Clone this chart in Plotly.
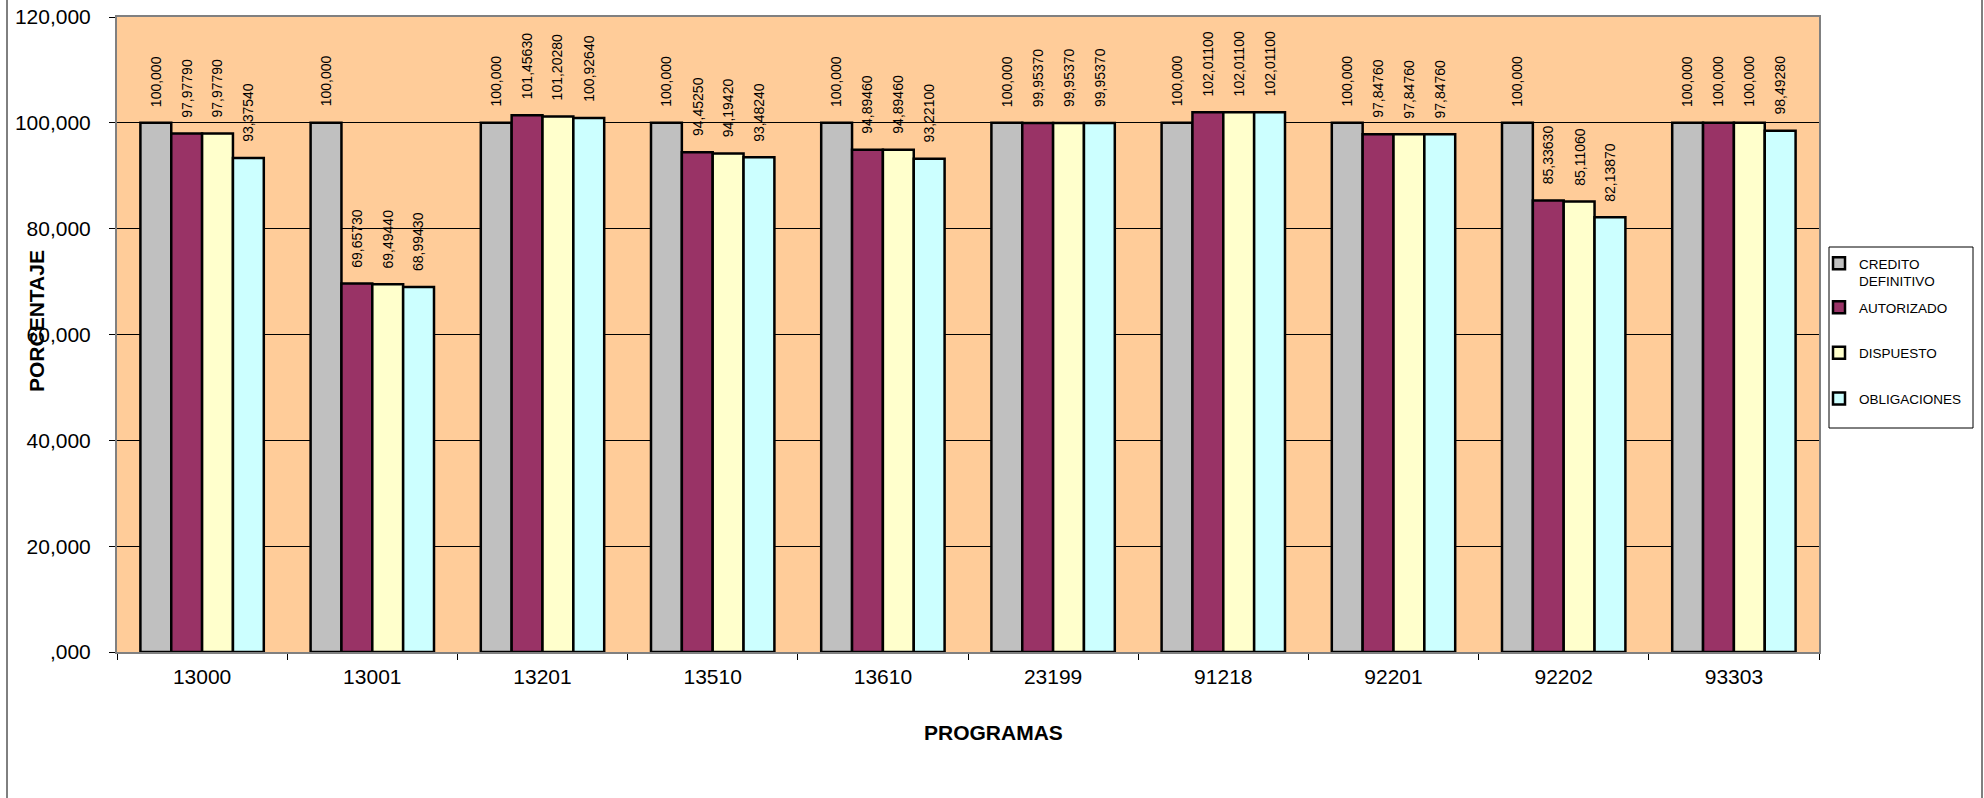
import plotly.graph_objects as go

categories = ["13000", "13001", "13201", "13510", "13610", "23199", "91218", "92201", "92202", "93303"]
series_names = ["CREDITO<br>DEFINITIVO", "AUTORIZADO", "DISPUESTO", "OBLIGACIONES"]
credito = [100, 100, 100, 100, 100, 100, 100, 100, 100, 100]
autorizado = [97.9779, 69.6573, 101.4563, 94.4525, 94.8946, 99.9537, 102.011, 97.8476, 85.3363, 100]
dispuesto = [97.9779, 69.4944, 101.2028, 94.1942, 94.8946, 99.9537, 102.011, 97.8476, 85.1106, 100]
obligaciones = [93.3754, 68.9943, 100.9264, 93.4824, 93.2210, 99.9537, 102.011, 97.8476, 82.1387, 98.4928]
colors = ["#C0C0C0", "#993366", "#FFFFCC", "#CCFFFF"]
y_tickvals = [0, 20, 40, 60, 80, 100, 120]
y_ticktext = [",000", "20,000", "40,000", "60,000", "80,000", "100,000", "120,000"]

series = [credito, autorizado, dispuesto, obligaciones]


def fmt(v):
    if float(v).is_integer():
        s = f"{v:.3f}"
    else:
        s = f"{v:.5f}"
    return s.replace(".", ",")


BARGAP = 0.275
FONT = "Liberation Sans, Arial, sans-serif"
PL, PR, PT, PB = 117, 1819, 17, 652
PW, PH = PR - PL, PB - PT


def px(xp):
    return (xp - PL) / PW


def py(yp):
    return (PB - yp) / PH


fig = go.Figure()
for j, (name, vals) in enumerate(zip(series_names, series)):
    fig.add_trace(go.Bar(
        x=categories, y=vals, name=name,
        marker=dict(color=colors[j], line=dict(color="#000000", width=2.5)),
        legendgroup=f"g{j}",
        legend="legend" if j == 0 else "legend2",
    ))

# data labels above bars
n = len(series)
w = (1 - BARGAP) / n
annotations = []
for j, vals in enumerate(series):
    for i, v in enumerate(vals):
        annotations.append(dict(
            x=i - (1 - BARGAP) / 2 + (j + 0.5) * w, y=v, xref="x", yref="y",
            text=fmt(v), textangle=-90, showarrow=False,
            xanchor="center", yanchor="bottom", yshift=14,
            font=dict(family=FONT, size=14, color="#000000"),
        ))

# axis titles
annotations.append(dict(
    text="<b>PORCENTAJE</b>", textangle=-90, showarrow=False,
    xref="paper", yref="paper", x=px(36), y=py(321),
    xanchor="center", yanchor="middle",
    font=dict(family=FONT, size=21, color="#000000"),
))
annotations.append(dict(
    text="<b>PROGRAMAS</b>", showarrow=False,
    xref="paper", yref="paper", x=px(994), y=py(732),
    xanchor="center", yanchor="middle",
    font=dict(family=FONT, size=21, color="#000000"),
))

legend_common = dict(
    xanchor="left", yanchor="top",
    bgcolor="rgba(0,0,0,0)", borderwidth=0,
    font=dict(family=FONT, size=13.5, color="#000000"),
    itemwidth=30, valign="top",
)

fig.update_layout(
    width=1984, height=798,
    margin=dict(l=PL, r=1984 - PR, t=PT, b=798 - PB, autoexpand=False),
    barmode="group", bargap=BARGAP, bargroupgap=0,
    plot_bgcolor="#FFCC99", paper_bgcolor="#FFFFFF",
    font=dict(family=FONT, color="#000000"),
    annotations=annotations,
    showlegend=True,
    legend=dict(x=px(1819), y=py(248), tracegroupgap=0, **legend_common),
    legend2=dict(x=px(1819), y=py(292), tracegroupgap=25, **legend_common),
    shapes=[
        dict(
            type="rect", xref="paper", yref="paper",
            x0=px(7), x1=px(1982), y0=py(810), y1=py(-10),
            line=dict(color="#000000", width=1), fillcolor="rgba(0,0,0,0)", layer="below",
        ),
        dict(
            type="rect", xref="paper", yref="paper",
            x0=px(1829), x1=px(1973), y0=py(428), y1=py(247),
            line=dict(color="#000000", width=1), fillcolor="rgba(0,0,0,0)", layer="above",
        ),
    ],
)

fig.update_xaxes(
    type="category", showline=True, mirror=True, linecolor="#808080", linewidth=2,
    ticks="outside", tickson="boundaries", ticklen=6, tickcolor="#000000",
    tickfont=dict(family=FONT, size=21, color="#000000"), ticklabelstandoff=5,
    showgrid=False, automargin=False,
)
fig.update_yaxes(
    range=[0, 120], tickvals=y_tickvals, ticktext=y_ticktext,
    showline=True, mirror=True, linecolor="#808080", linewidth=2,
    ticks="outside", ticklen=6, tickcolor="#000000",
    tickfont=dict(family=FONT, size=21, color="#000000"), ticklabelstandoff=14,
    showgrid=True, gridcolor="#000000", gridwidth=1, zeroline=False, automargin=False,
)

fig.write_html("out.html")
